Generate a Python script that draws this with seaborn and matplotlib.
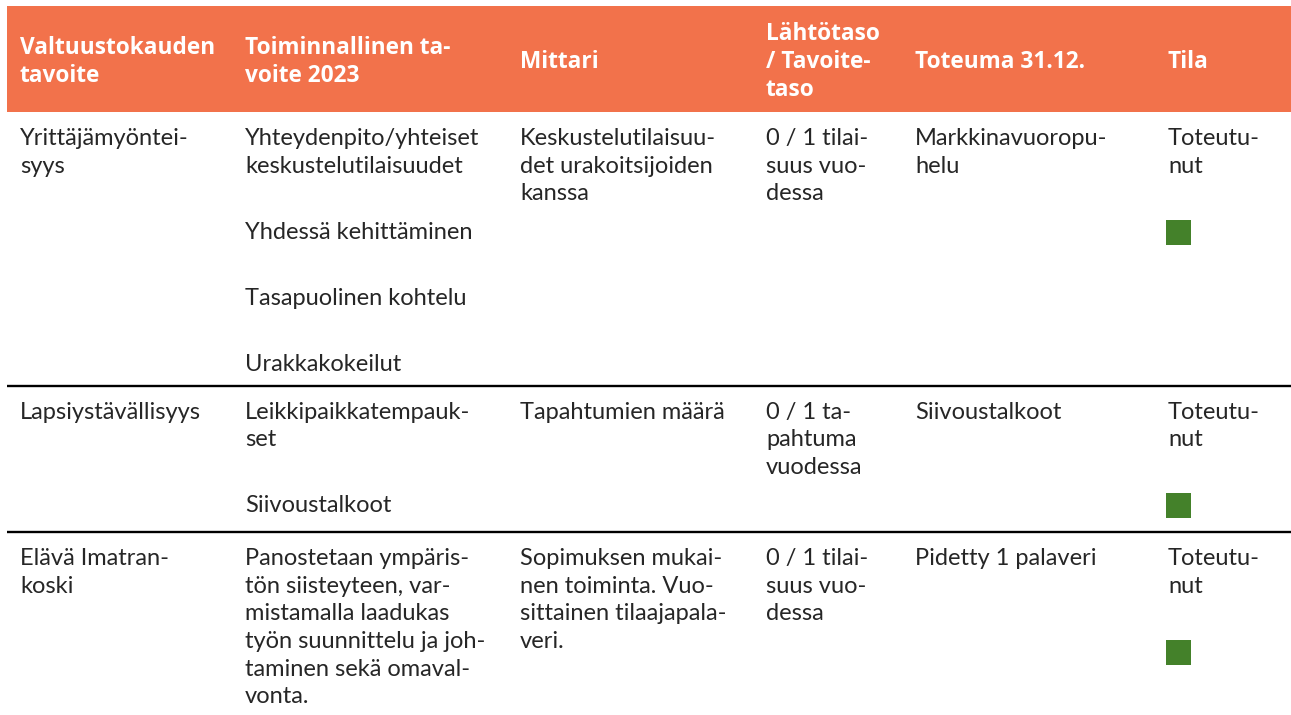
import matplotlib
matplotlib.use("Agg")
import matplotlib.pyplot as plt
import seaborn as sns
import pandas as pd

# ---- data -----------------------------------------------------------------
headers = [
    ["Valtuustokauden", "tavoite"],
    ["Toiminnallinen ta-", "voite 2023"],
    ["Mittari"],
    ["Lähtötaso", "/ Tavoite-", "taso"],
    ["Toteuma 31.12."],
    ["Tila"],
]

# each cell: list of paragraphs, each paragraph a list of lines
col_tavoite = [
    [["Yrittäjämyöntei-", "syys"]],
    [["Lapsiystävällisyys"]],
    [["Elävä Imatran-", "koski"]],
]
col_toiminnallinen = [
    [["Yhteydenpito/yhteiset", "keskustelutilaisuudet"], ["Yhdessä kehittäminen"],
     ["Tasapuolinen kohtelu"], ["Urakkakokeilut"]],
    [["Leikkipaikkatempauk-", "set"], ["Siivoustalkoot"]],
    [["Panostetaan ympäris-", "tön siisteyteen, var-", "mistamalla laadukas",
      "työn suunnittelu ja joh-", "taminen sekä omaval-", "vonta."]],
]
col_mittari = [
    [["Keskustelutilaisuu-", "det urakoitsijoiden", "kanssa"]],
    [["Tapahtumien määrä"]],
    [["Sopimuksen mukai-", "nen toiminta. Vuo-", "sittainen tilaajapala-", "veri."]],
]
col_taso = [
    [["0 / 1 tilai-", "suus vuo-", "dessa"]],
    [["0 / 1 ta-", "pahtuma", "vuodessa"]],
    [["0 / 1 tilai-", "suus vuo-", "dessa"]],
]
col_toteuma = [
    [["Markkinavuoropu-", "helu"]],
    [["Siivoustalkoot"]],
    [["Pidetty 1 palaveri"]],
]
col_tila = [
    [["Toteutu-", "nut"]],
    [["Toteutu-", "nut"]],
    [["Toteutu-", "nut"]],
]
status = ["Toteutunut", "Toteutunut", "Toteutunut"]
status_colors = {"Toteutunut": "#44812A"}

# ---- style ----------------------------------------------------------------
sns.set_theme(style="white")
BODY_FONT = ["Lato", "DejaVu Sans"]
HEAD_FONT = ["Open Sans", "DejaVu Sans"]
plt.rcParams["font.family"] = BODY_FONT

W, H = 1291, 715
fig = plt.figure(figsize=(W / 100, H / 100), dpi=100)
ax = fig.add_axes([0, 0, 1, 1])
ax.set_xlim(0, W)
ax.set_ylim(H, 0)
ax.axis("off")

col_x = [20, 245, 520, 766, 915, 1168]
left, right = 7, W
header_top, header_bot = 6, 112
LINE = 27.6
PARA = 66
FIRST = 33
TEXT_COLOR = "#262626"
HEAD_COLOR = "#F2724B"
BODY_SIZE = 17
HEAD_SIZE = 16.3

# header band
ax.fill_between([left, right], header_top, header_bot, color=HEAD_COLOR, lw=0)
head_mid = 60
for x, lines in zip(col_x, headers):
    n = len(lines)
    first = head_mid + 8 - (n - 1) * LINE / 2
    for i, ln in enumerate(lines):
        ax.text(x, first + i * LINE, ln, color="white", fontsize=HEAD_SIZE,
                fontweight="bold", family=HEAD_FONT, va="baseline", ha="left")

columns = [col_tavoite, col_toiminnallinen, col_mittari, col_taso, col_toteuma, col_tila]

row_top = header_bot
sq_points = []
for r in range(len(status)):
    base0 = row_top + FIRST
    last_bases = []
    tila_last = None
    for c, col in enumerate(columns):
        y = base0
        last = y
        for p, para in enumerate(col[r]):
            if p > 0:
                y = last + PARA
            for i, ln in enumerate(para):
                yy = y + i * LINE
                ax.text(col_x[c], yy, ln, color=TEXT_COLOR, fontsize=BODY_SIZE,
                        family=BODY_FONT, va="baseline", ha="left")
                last = yy
        last_bases.append(last)
        if c == len(columns) - 1:
            tila_last = last
    sq_top = tila_last + 47
    sq_points.append({"x": col_x[-1] + 10.5, "y": sq_top + 12.5, "status": status[r]})
    bottom = max(max(last_bases) + 15, sq_top + 25 + 14)
    if r < len(status) - 1:
        ax.hlines(bottom, left, right, color="black", lw=1.7)
    row_top = bottom

sq = pd.DataFrame(sq_points)
sns.scatterplot(data=sq, x="x", y="y", hue="status", palette=status_colors,
                marker="s", s=18 ** 2, linewidth=0, legend=False, ax=ax)
ax.set_xlim(0, W)
ax.set_ylim(H, 0)
ax.axis("off")

fig.savefig("out.png", dpi=100)
